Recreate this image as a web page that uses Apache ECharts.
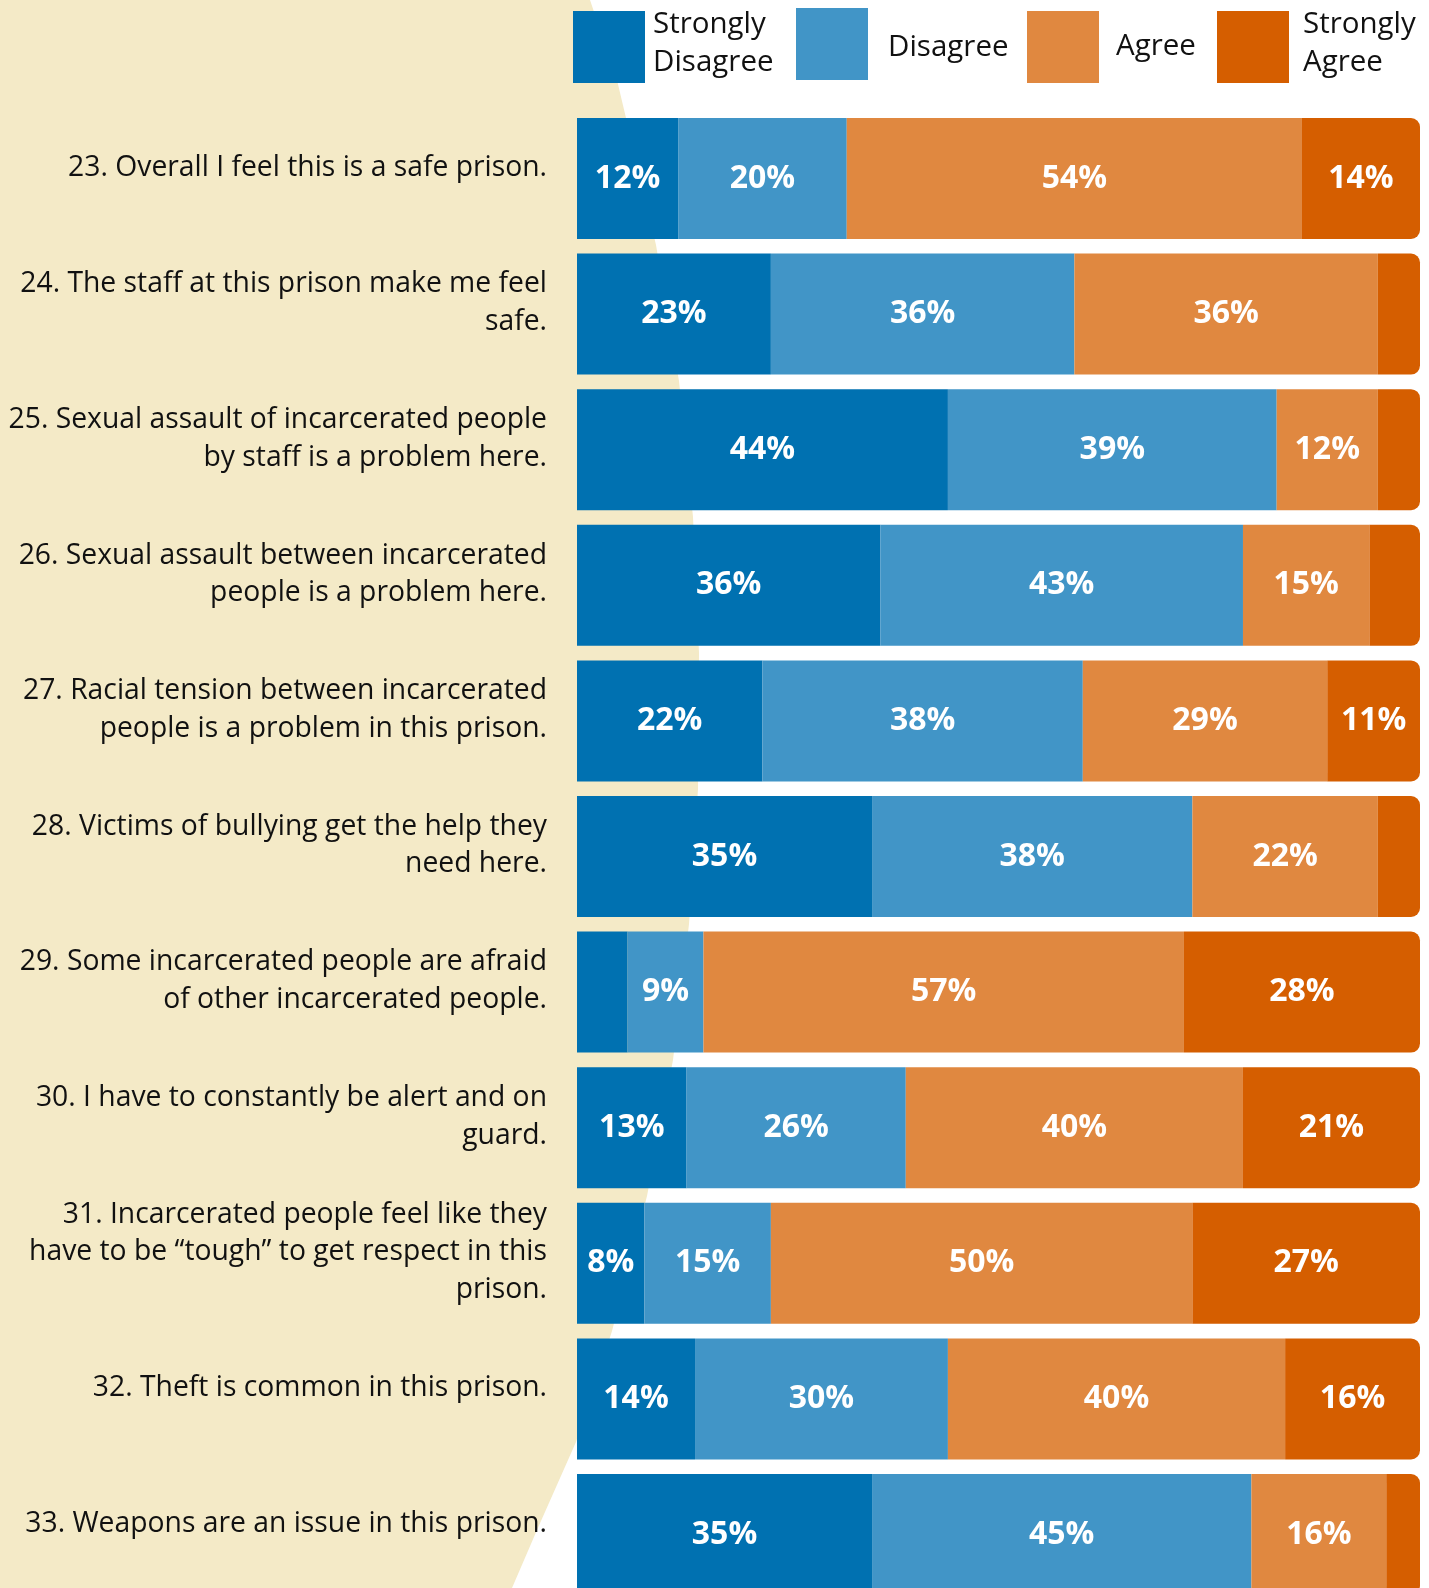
<!DOCTYPE html>
<html>
<head>
<meta charset="utf-8">
<title>Safety survey responses</title>
<script src="https://cdn.jsdelivr.net/npm/echarts@6/dist/echarts.min.js"></script>
<style>
  html, body { margin: 0; padding: 0; background: #ffffff; overflow: hidden; }
  /* the last row runs past the bottom edge of the page */
  #chart { width: 1429px; height: 1620px; }
</style>
</head>
<body>
<div id="chart"></div>
<script>
// Survey statements, top to bottom
const questions = [
  '23. Overall I feel this is a safe prison.',
  '24. The staff at this prison make me feel\nsafe.',
  '25. Sexual assault of incarcerated people\nby staff is a problem here.',
  '26. Sexual assault between incarcerated\npeople is a problem here.',
  '27. Racial tension between incarcerated\npeople is a problem in this prison.',
  '28. Victims of bullying get the help they\nneed here.',
  '29. Some incarcerated people are afraid\nof other incarcerated people.',
  '30. I have to constantly be alert and on\nguard.',
  '31. Incarcerated people feel like they\nhave to be \u201ctough\u201d to get respect in this\nprison.',
  '32. Theft is common in this prison.',
  '33. Weapons are an issue in this prison.'
];

// Share of responses (%) per answer
const stronglyDisagree = [12, 23, 44, 36, 22, 35, 6, 13, 8, 14, 35];
const disagree         = [20, 36, 39, 43, 38, 38, 9, 26, 15, 30, 45];
const agree            = [54, 36, 12, 15, 29, 22, 57, 40, 50, 40, 16];
const stronglyAgree    = [14, 5, 5, 6, 11, 5, 28, 21, 27, 16, 4];

const answerNames = ['Strongly\nDisagree', 'Disagree', 'Agree', 'Strongly\nAgree'];
const answerValues = [stronglyDisagree, disagree, agree, stronglyAgree];
const answerColors = ['#0071B1', '#4195C7', '#E08840', '#D55E00'];

const FONT = '"Open Sans", "Noto Sans", sans-serif';

const chart = echarts.init(document.getElementById('chart'), null, { renderer: 'canvas' });

const series = answerNames.map((name, i) => ({
  name: name,
  type: 'bar',
  stack: 'total',
  barCategoryGap: '10.8%',
  data: answerValues[i],
  itemStyle: {
    color: answerColors[i],
    borderRadius: i === answerNames.length - 1 ? [0, 9, 9, 0] : 0
  },
  label: {
    show: true,
    position: 'inside',
    color: '#ffffff',
    fontFamily: FONT,
    fontWeight: 'bold',
    fontSize: 32,
    formatter: p => (p.value >= 8 ? p.value + '%' : '')
  },
  emphasis: { disabled: true },
  silent: true
}));

// Rich-text helpers: a thin spacer line nudges the text up or down
const legendText = { fontFamily: FONT, fontSize: 29.5, lineHeight: 38, color: '#111111' };
const legendRich = {
  t: legendText,
  s7: { fontSize: 4, lineHeight: 7 },
  s8: { fontSize: 4, lineHeight: 8 }
};
function legendLabel(name) {
  const body = name.split('\n').map(l => '{t|' + l + '}').join('\n');
  // two-line entries sit a little high, single-line ones a little low
  return name.indexOf('\n') >= 0 ? body + '\n{s7| }' : (name === 'Disagree' ? '{s8| }\n' + body : body);
}

// One legend block per answer so each sits where the layout wants it
const legendLeft = [573, 796, 1027, 1217];
const legendTop = [5.5, 8, 11, 5.5];
const legendGap = [3, 15, 12, 9];
const legends = answerNames.map((name, i) => ({
  data: [name],
  left: legendLeft[i],
  top: legendTop[i],
  padding: 0,
  itemWidth: 72,
  itemHeight: 72,
  icon: 'path://M0,0H10V10H0Z',
  selectedMode: false,
  formatter: legendLabel,
  textStyle: Object.assign({}, legendText, {
    padding: [0, 0, 0, legendGap[i]],
    rich: legendRich
  })
}));

const option = {
  animation: false,
  backgroundColor: '#ffffff',
  graphic: [{
    // beige backdrop behind the statement column
    type: 'polygon',
    z: -10,
    silent: true,
    shape: {
      points: [
        [0, 0], [590, 0], [617, 80], [626, 118], [656, 245], [679, 381],
        [693, 517], [699, 653], [698, 789], [689, 924], [673, 1060],
        [647, 1196], [612, 1331], [576, 1442], [537, 1530], [512, 1588],
        [502, 1620], [0, 1620]
      ]
    },
    style: { fill: '#F4EAC7' }
  }],
  legend: legends,
  grid: {
    left: 577,
    right: 9,
    top: 110.7,
    height: 1491.6,
    containLabel: false
  },
  xAxis: {
    type: 'value',
    min: 0,
    max: 100,
    show: false
  },
  yAxis: {
    type: 'category',
    inverse: true,
    data: questions,
    axisLine: { show: false },
    axisTick: { show: false },
    splitLine: { show: false },
    axisLabel: {
      margin: 30,
      align: 'right',
      // statements sit slightly above the middle of their bar
      formatter: v => v.split('\n').map(l => '{q|' + l + '}').join('\n') + '\n{g| }',
      rich: {
        q: { fontFamily: FONT, fontSize: 28.3, lineHeight: 37.5, color: '#111111', align: 'right' },
        g: { fontSize: 4, lineHeight: 22, align: 'right' }
      }
    }
  },
  series: series
};

chart.setOption(option);
</script>
</body>
</html>
